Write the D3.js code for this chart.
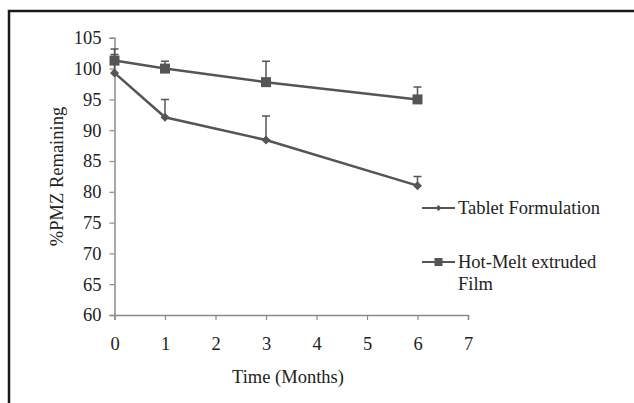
<!DOCTYPE html>
<html>
<head>
<meta charset="utf-8">
<script src="https://cdn.jsdelivr.net/npm/d3@7"></script>
<style>
  html, body { margin: 0; padding: 0; background: #fff; }
  svg { display: block; }
  text { font-family: "Liberation Serif", "Times New Roman", serif; fill: #222; }
</style>
</head>
<body>
<svg id="chart" width="634" height="403"></svg>
<script>
// Time points (months)
const months = [0, 1, 3, 6];
// % PMZ remaining, mean values
const tabletMean = [99.3, 92.1, 88.4, 81.0];
const filmMean = [101.3, 100.0, 97.8, 95.0];
// Upper error bar ends
const tabletUpper = [102.3, 95.0, 92.3, 82.5];
const filmUpper = [103.2, 101.2, 101.2, 97.0];
// Axis ticks
const xTicks = [0, 1, 2, 3, 4, 5, 6, 7];
const yTicks = [60, 65, 70, 75, 80, 85, 90, 95, 100, 105];
const seriesNames = ["Tablet Formulation", "Hot-Melt extruded Film"];

const fontSize = 18.5;
const svg = d3.select("#chart");

// Outer frame (top and left edges)
svg.append("path")
  .attr("d", "M9,403 V11 H634")
  .attr("fill", "none")
  .attr("stroke", "#1a1a1a")
  .attr("stroke-width", 2.5);

const x = d3.scaleLinear().domain([0, 7]).range([114.5, 468]);
const y = d3.scaleLinear().domain([60, 105]).range([315, 37.8]);

const axisColor = "#8a8a8a";
const seriesColor = "#555";

const gx = svg.append("g").attr("transform", `translate(0,${y(60)})`)
  .call(d3.axisBottom(x).tickValues(xTicks).tickSize(5).tickPadding(17).tickFormat(d3.format("d")));
const gy = svg.append("g").attr("transform", `translate(${x(0)},0)`)
  .call(d3.axisLeft(y).tickValues(yTicks).tickSize(5).tickPadding(8).tickFormat(d3.format("d")));

[gx, gy].forEach(g => {
  g.select(".domain").attr("stroke", axisColor).attr("stroke-width", 1.5);
  g.selectAll(".tick line").attr("stroke", axisColor).attr("stroke-width", 1.2);
  g.selectAll(".tick text")
    .attr("font-family", '"Liberation Serif", "Times New Roman", serif')
    .attr("font-size", fontSize).attr("fill", "#222");
});

// Axis titles
svg.append("text")
  .attr("x", 288).attr("y", 383)
  .attr("text-anchor", "middle").attr("font-size", fontSize)
  .text("Time (Months)");
svg.append("text")
  .attr("transform", `translate(63,176.5) rotate(-90)`)
  .attr("text-anchor", "middle").attr("font-size", fontSize)
  .text("%PMZ Remaining");

const line = d3.line().x(d => x(d[0])).y(d => y(d[1]));

function drawSeries(means, uppers, marker) {
  const pts = months.map((m, i) => [m, means[i], uppers[i]]);
  const g = svg.append("g");
  // upper error bars
  g.selectAll("path.err").data(pts).enter().append("path")
    .attr("d", d => `M${x(d[0])},${y(d[1])} V${y(d[2])} M${x(d[0]) - 4},${y(d[2])} H${x(d[0]) + 4}`)
    .attr("stroke", seriesColor).attr("stroke-width", 1.5).attr("fill", "none");
  g.append("path").datum(pts)
    .attr("d", line)
    .attr("fill", "none").attr("stroke", seriesColor).attr("stroke-width", 2.5);
  g.selectAll("path.mk").data(pts).enter().append("path")
    .attr("transform", d => `translate(${x(d[0])},${y(d[1])})`)
    .attr("d", marker)
    .attr("fill", seriesColor);
}

const diamond = "M0,-4.5 L4.5,0 L0,4.5 L-4.5,0 Z";
const square = "M-5,-5 H5 V5 H-5 Z";
drawSeries(tabletMean, tabletUpper, diamond);
drawSeries(filmMean, filmUpper, square);

// Legend
const legend = svg.append("g");
const legendRows = [
  { name: seriesNames[0], marker: "M0,-3 L3,0 L0,3 L-3,0 Z", y: 208, lines: ["Tablet Formulation"] },
  { name: seriesNames[1], marker: "M-4,-4 H4 V4 H-4 Z", y: 262, lines: ["Hot-Melt extruded", "Film"] }
];
legendRows.forEach(r => {
  legend.append("line")
    .attr("x1", 422).attr("x2", 455).attr("y1", r.y).attr("y2", r.y)
    .attr("stroke", seriesColor).attr("stroke-width", 2);
  legend.append("path")
    .attr("transform", `translate(438.5,${r.y})`)
    .attr("d", r.marker).attr("fill", seriesColor);
  const t = legend.append("text")
    .attr("x", 458).attr("y", r.y + 6).attr("font-size", fontSize);
  r.lines.forEach((s, i) => {
    t.append("tspan").attr("x", 458).attr("dy", i === 0 ? 0 : 22).text(s);
  });
});
</script>
</body>
</html>
